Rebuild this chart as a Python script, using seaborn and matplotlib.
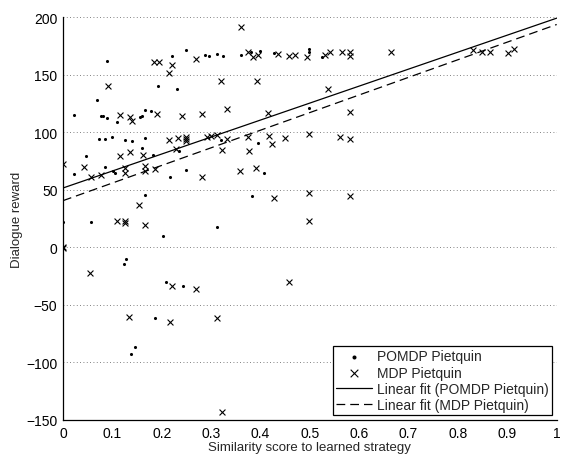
import numpy as np
import pandas as pd
import matplotlib
matplotlib.use("Agg")
import matplotlib.pyplot as plt
import seaborn as sns

sns.set_style("white")
plt.rcParams["font.family"] = ["Liberation Sans", "DejaVu Sans"]

# POMDP Pietquin points (similarity score, dialogue reward)
pomdp_x = [0.000, 0.000, 0.000, 0.022, 0.022, 0.046, 0.056, 0.068, 0.073, 0.076,
           0.081, 0.085, 0.085, 0.089, 0.090, 0.100, 0.101, 0.105, 0.109, 0.123,
           0.127, 0.126, 0.140, 0.138, 0.145, 0.155, 0.160, 0.167, 0.160, 0.167,
           0.166, 0.178, 0.182, 0.187, 0.193, 0.202, 0.208, 0.217, 0.221, 0.231,
           0.235, 0.244, 0.250, 0.250, 0.287, 0.296, 0.312, 0.312, 0.321, 0.325,
           0.361, 0.380, 0.400, 0.383, 0.396, 0.407, 0.428, 0.499, 0.499, 0.499,
           0.524]
pomdp_y = [0, -1, 22, 64, 115, 79, 22, 128, 94, 114,
           114, 94, 70, 112, 162, 96, 66.5, 64.5, 109, -14.5,
           -10.5, 93, 92, -93, -87, 113, 114, 95, 86, 119.5,
           45, 118.6, 80, -61.5, 140.5, 10, -30.5, 61, 166, 137.7,
           84, -33.7, 171, 67, 167, 166, 168, 17.7, 93.4, 166,
           167, 170, 170.7, 44.5, 91, 64.5, 168.7, 172, 170, 121,
           165]

# MDP Pietquin points
mdp_x = [0.000, 0.000, 0.000, 0.042, 0.054, 0.056, 0.076, 0.091, 0.110, 0.115,
         0.115, 0.125, 0.125, 0.125, 0.125, 0.133, 0.135, 0.135, 0.140, 0.154,
         0.162, 0.166, 0.167, 0.167, 0.185, 0.187, 0.191, 0.195, 0.214, 0.215,
         0.216, 0.221, 0.221, 0.229, 0.232, 0.242, 0.249, 0.249, 0.249, 0.270,
         0.270, 0.282, 0.282, 0.292, 0.299, 0.312, 0.312, 0.321, 0.323, 0.322,
         0.333, 0.333, 0.358, 0.360, 0.375, 0.375, 0.376, 0.385, 0.391, 0.392,
         0.396, 0.416, 0.417, 0.423, 0.428, 0.435, 0.449, 0.457, 0.457, 0.470,
         0.495, 0.499, 0.499, 0.499, 0.531, 0.537, 0.541, 0.561, 0.565, 0.582,
         0.582, 0.582, 0.582, 0.582, 0.665, 0.830, 0.848, 0.865, 0.902, 0.914]
mdp_y = [0, -1, 72, 69.5, -22, 61, 62.5, 140, 22.5, 115,
         79, 23, 21, 68.5, 64.5, -60.5, 112.8, 82.7, 110, 36.5,
         80, 19.5, 70.5, 66, 161, 68, 116, 161, 93.4, 151.5,
         -64.7, 158, -33.7, 85.6, 95, 113.7, 96, 94, 92, 163.5,
         -36, 116, 61, 95.5, 96.3, 97.2, -61.5, 144, 84.7, -143,
         120, 94.3, 66, 191, 170, 95.5, 84, 165, 68.8, 144,
         167, 117, 96.5, 90, 42.5, 168, 95, 166, -30.5, 167,
         165, 98.5, 47.5, 22.7, 166.7, 137.5, 170, 96, 170, 170,
         166, 117.7, 94, 44.5, 169.5, 171, 170, 170, 168.5, 172.4]

# linear fit coefficients (intercept, slope)
fit_pomdp = [51.5, 147.5]
fit_mdp = [40.5, 153.0]

xticks = [0, 0.1, 0.2, 0.3, 0.4, 0.5, 0.6, 0.7, 0.8, 0.9, 1]
xtick_labels = ["0", "0.1", "0.2", "0.3", "0.4", "0.5", "0.6", "0.7", "0.8", "0.9", "1"]
yticks = [-150, -100, -50, 0, 50, 100, 150, 200]

df_pomdp = pd.DataFrame({"x": pomdp_x, "y": pomdp_y})
df_mdp = pd.DataFrame({"x": mdp_x, "y": mdp_y})

fig = plt.figure(figsize=(5.61, 4.56), dpi=100)
ax = fig.add_axes([0.1123, 0.0768, 0.8800, 0.8837])

for t in yticks:
    ax.axhline(t, color="0.35", linestyle=(0, (1, 3)), linewidth=0.6, zorder=0)

sns.scatterplot(data=df_pomdp, x="x", y="y", marker="o", s=5, color="black",
                linewidth=0, ax=ax, label="POMDP Pietquin", zorder=3)
sns.scatterplot(data=df_mdp, x="x", y="y", marker="x", s=18, color="black",
                linewidth=0.8, ax=ax, label="MDP Pietquin", zorder=3)

xs = np.array([0.0, 1.0])
ax.plot(xs, fit_pomdp[0] + fit_pomdp[1] * xs, color="black", linewidth=0.9,
        label="Linear fit (POMDP Pietquin)")
ax.plot(xs, fit_mdp[0] + fit_mdp[1] * xs, color="black", linewidth=0.9,
        linestyle=(0, (7, 4)), label="Linear fit (MDP Pietquin)")

ax.set_xlim(0, 1)
ax.set_ylim(-150, 200)
ax.set_xticks(xticks)
ax.set_xticklabels(xtick_labels)
ax.set_yticks(yticks)
ax.tick_params(direction="in", length=4, width=0.8, labelsize=10, colors="black", pad=4)
for side in ["top", "right"]:
    ax.spines[side].set_visible(False)
for side in ["left", "bottom"]:
    ax.spines[side].set_color("black")
    ax.spines[side].set_linewidth(0.9)

ax.set_xlabel("Similarity score to learned strategy", fontsize=9.5, labelpad=1)
ax.set_ylabel("Dialogue reward", fontsize=9.5, labelpad=2)

handles, labels = ax.get_legend_handles_labels()
leg = ax.legend(handles, labels, loc="lower right", bbox_to_anchor=(0.99, 0.012),
                borderaxespad=0, fontsize=10, frameon=True, fancybox=False,
                edgecolor="black", framealpha=1, handlelength=2.6,
                handletextpad=0.3, labelspacing=0.15, borderpad=0.25,
                markerscale=1.3)
leg.get_frame().set_linewidth(0.9)

fig.savefig("out.png", dpi=100)
